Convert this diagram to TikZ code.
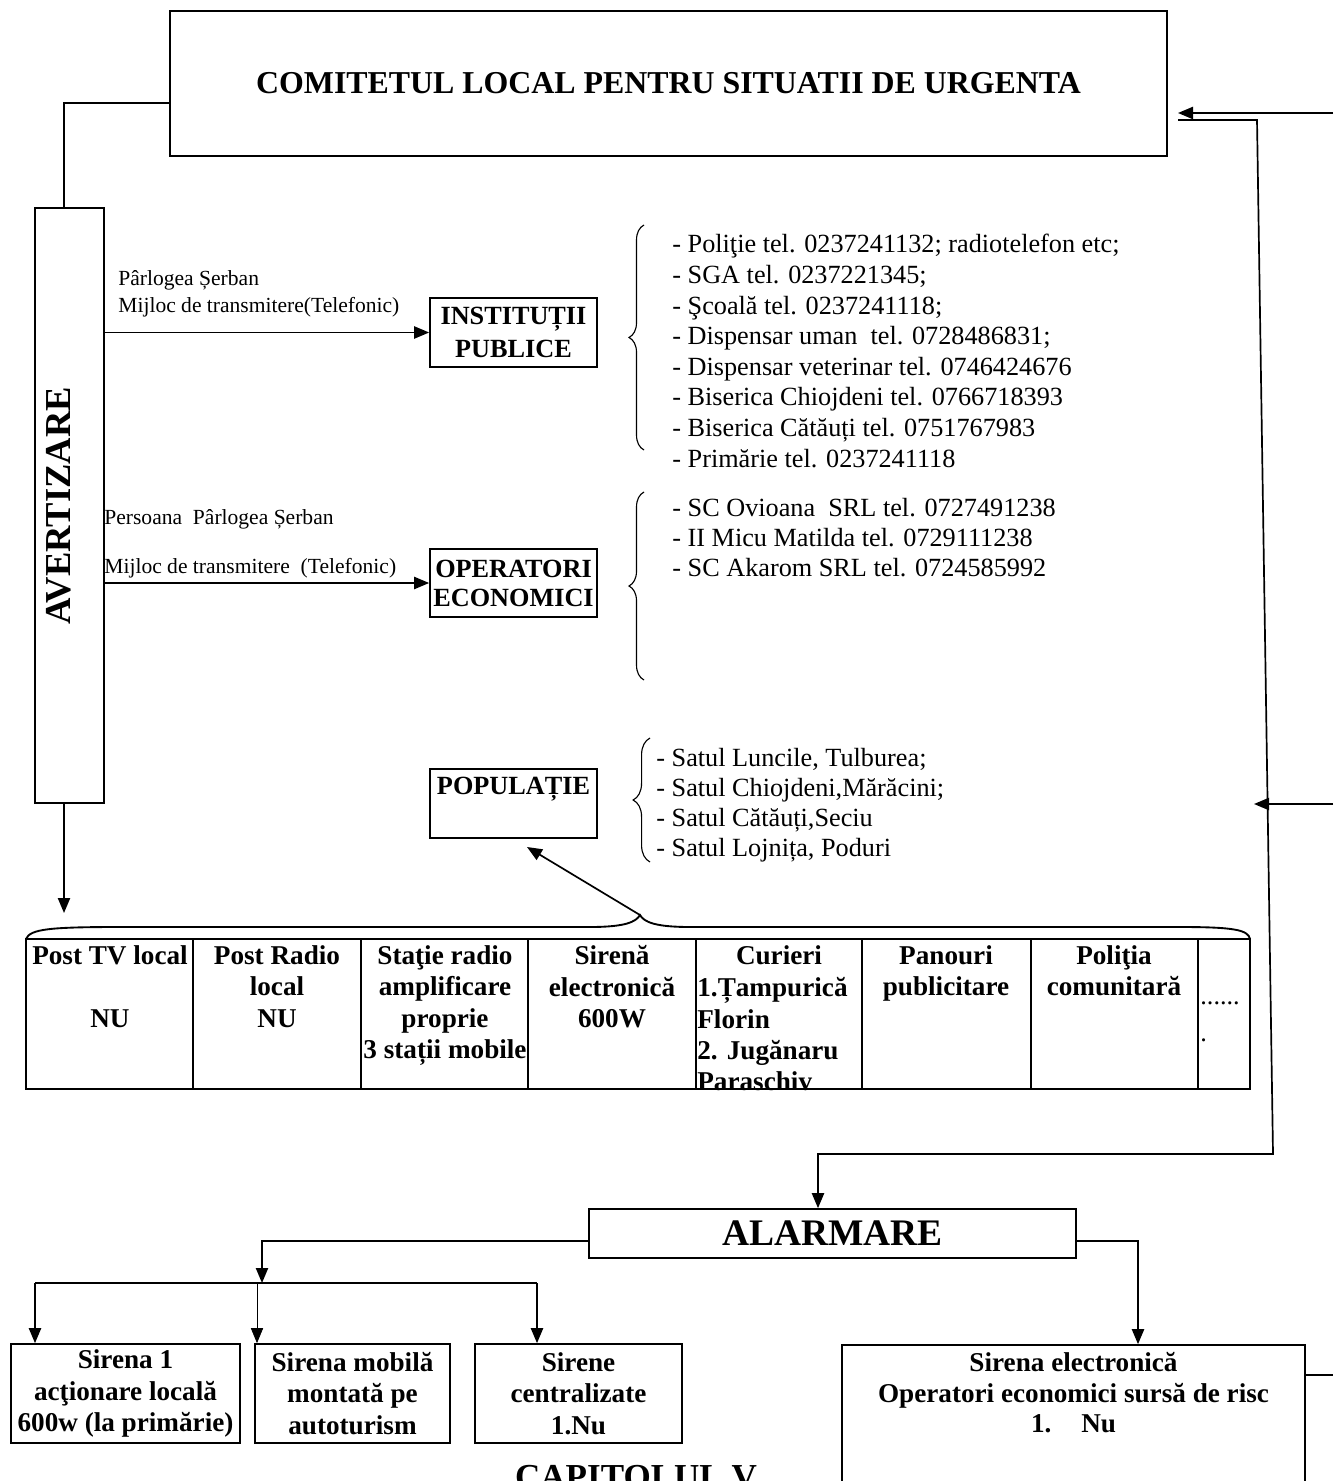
\documentclass[tikz,border=0pt]{standalone}
\usepackage{fontspec}
\setmainfont{Liberation Serif}
\usetikzlibrary{arrows.meta,decorations.pathreplacing}

\def\pxu{0.01875cm}

\begin{document}
\begin{tikzpicture}[x=0.01875cm, y=-0.01875cm,
  box/.style={draw, line width=0.9pt, inner sep=0pt},
  wire/.style={line width=0.9pt},
  arr/.style={-{Triangle[length=8pt,width=6.5pt]}},
  lbl/.style={anchor=west, inner sep=0pt, font=\fontsize{11.5}{13}\selectfont},
  lst/.style={anchor=north west, align=left, inner sep=0pt},
  cellt/.style={anchor=north, align=center, inner sep=0pt, font=\fontsize{14.5}{16.8}\selectfont\bfseries},
  sbox/.style={box, align=center, font=\fontsize{14.5}{16.8}\selectfont\bfseries},
  crl/.style={decorate, decoration={brace, amplitude=8pt}, line width=0.6pt},
  tab/.style={line width=1pt}]
  \useasboundingbox (0,0) rectangle (1333,1481);

  % boxes
  \node[box, minimum width=997*\pxu, minimum height=145*\pxu,
    font=\fontsize{17}{20}\selectfont\bfseries] (clsu) at (668.5,83.5)
    {COMITETUL LOCAL PENTRU SITUATII DE URGENTA};
  \node[box, minimum width=69*\pxu, minimum height=595*\pxu] (avert) at (69.5,505.5) {};
  \node[rotate=90, inner sep=0pt, font=\fontsize{19.5}{22}\selectfont\bfseries] (avtxt) at (59,506) {AVERTIZARE};
  \node[box, minimum width=167*\pxu, minimum height=69*\pxu, align=center,
    font=\fontsize{14}{17.6}\selectfont\bfseries] (inst) at (513.5,332.5) {INSTITUȚII\\PUBLICE};
  \node[box, minimum width=167*\pxu, minimum height=68*\pxu, align=center,
    font=\fontsize{14}{15.5}\selectfont\bfseries] (oper) at (513.5,583) {OPERATORI\\ECONOMICI};
  \node[box, minimum width=167*\pxu, minimum height=69*\pxu] (pop) at (513.5,803.5) {};
  \node[inner sep=0pt, font=\fontsize{14}{16}\selectfont\bfseries] (poptxt) at (513.5,789) {POPULAȚIE};

  % labels on the arrows
  \node[lbl] (l1) at (118,280) {Pârlogea Șerban};
  \node[lbl] (l2) at (118,307) {Mijloc de transmitere(Telefonic)};
  \node[lbl] (l3) at (104,519) {Persoana\ \ Pârlogea Șerban};
  \node[lbl] (l4) at (104,568) {Mijloc de transmitere\ \ (Telefonic)};

  % lists
  \draw[crl] (644,450) -- (644,225);
  \node[lst, font=\fontsize{14}{16.33}\selectfont] (instlist) at (672,234)
    {- Poliţie tel. 0237241132; radiotelefon etc;\\
     - SGA tel. 0237221345;\\
     - Şcoală tel. 0237241118;\\
     - Dispensar uman\ \ tel. 0728486831;\\
     - Dispensar veterinar tel. 0746424676\\
     - Biserica Chiojdeni tel. 0766718393\\
     - Biserica Cătăuți tel. 0751767983\\
     - Primărie tel. 0237241118};
  \draw[crl] (644,680) -- (644,492);
  \node[lst, font=\fontsize{14}{16}\selectfont] (operlist) at (672,498)
    {- SC Ovioana\ \ SRL tel. 0727491238\\
     - II Micu Matilda tel. 0729111238\\
     - SC Akarom SRL tel. 0724585992};
  \draw[crl, decoration={brace, amplitude=9pt}] (650,862) -- (650,738);
  \node[lst, font=\fontsize{14}{16}\selectfont] (poplist) at (656,748)
    {- Satul Luncile, Tulburea;\\
     - Satul Chiojdeni,Mărăcini;\\
     - Satul Cătăuți,Seciu\\
     - Satul Lojnița, Poduri};

  % table of means
  \draw[tab] (26,939) .. controls (30,929) and (50,927) .. (120,927) -- (590,927)
    .. controls (625,927) and (636,922) .. (640,915)
    .. controls (644,922) and (655,927) .. (690,927) -- (1180,927)
    .. controls (1235,927) and (1248,930) .. (1250,939);
  \foreach \xa/\xb in {26/193,193/361,361/528,528/696,696/862,862/1031,1031/1198,1198/1250}
    \draw[tab] (\xa,939) rectangle (\xb,1089);
  \node[cellt] (tv) at (110,945) {Post TV local\\\mbox{}\\NU};
  \node[cellt] (radio) at (277,945) {Post Radio\\local\\NU};
  \node[cellt] (statie) at (445,945) {Staţie radio\\amplificare\\proprie\\3 stații mobile};
  \node[cellt] (sirena) at (612,945) {Sirenă\\electronică\\600W};
  \node[cellt] (cur) at (779,945) {Curieri};
  \node[cellt, anchor=north west, align=left] (curlist) at (697,977)
    {1.Țampurică\\Florin\\2. Jugănaru\\Paraschiv};
  \node[cellt] (panou) at (946,945) {Panouri\\publicitare};
  \node[cellt] (politia) at (1114,945) {Poliţia\\comunitară};
  \node[lbl, font=\fontsize{14}{16}\selectfont] (dots) at (1200,1003) {......};
  \node[lbl, font=\fontsize{14}{16}\selectfont] (dot) at (1200,1040) {.};

  % alarm part
  \node[box, minimum width=487*\pxu, minimum height=49*\pxu,
    font=\fontsize{20}{24}\selectfont\bfseries] (alarm) at (832.5,1233.5) {ALARMARE};
  \node[sbox, minimum width=229*\pxu, minimum height=99*\pxu] (s1) at (125.5,1393.5)
    {Sirena 1\\acţionare locală\\600w (la primărie)};
  \node[sbox, minimum width=195*\pxu, minimum height=99*\pxu] (s2) at (352.5,1393.5)
    {Sirena mobilă\\montată pe\\autoturism};
  \node[sbox, minimum width=207*\pxu, minimum height=99*\pxu] (s3) at (578.5,1393.5)
    {Sirene\\centralizate\\1.Nu};
  \node[box, minimum width=463*\pxu, minimum height=160*\pxu] (s4) at (1073.5,1425) {};
  \node[cellt, font=\fontsize{14.5}{16.3}\selectfont\bfseries] (s4txt) at (1073.5,1352)
    {Sirena electronică\\Operatori economici sursă de risc\\1.\hspace{1.1em}Nu};
  \node[anchor=base, inner sep=0pt, font=\fontsize{18.7}{22}\selectfont\bfseries] (cap) at (636,1488) {CAPITOLUL V};

  % connectors
  \coordinate (lA) at (64,103);
  \coordinate (lB) at (64,913);
  \draw[wire] (clsu.west |- lA) -| (avert.north -| lA);
  \draw[wire, arr] (avert.south -| lB) -- (lB);
  \draw[wire, arr] (avert.east |- inst.west) -- (inst.west);
  \draw[wire, arr] (avert.east |- oper.west) -- (oper.west);
  \coordinate (tip) at (640,915);
  \coordinate (popin) at (527,847);
  \draw[wire, arr] (tip) -- (popin);

  \coordinate (rIn) at (1333,113);
  \coordinate (rTip) at (1178,113);
  \draw[wire, arr] (rIn) -- (rTip);
  \coordinate (rA) at (1178,120);
  \coordinate (rB) at (1257,120);
  \coordinate (rC) at (1273,1154);
  \coordinate (rD) at (818,1154);
  \draw[wire, arr] (rA) -- (rB) -- (rC) -| (alarm.north -| rD);
  \coordinate (rIn2) at (1333,804);
  \coordinate (rTip2) at (1254,804);
  \draw[wire, arr] (rIn2) -- (rTip2);

  \coordinate (aL) at (262,1241);
  \coordinate (aJ) at (262,1283);
  \draw[wire, arr] (alarm.west |- aL) -| (aJ);
  \coordinate (bL) at (35,1283);
  \coordinate (bM) at (257,1283);
  \coordinate (bR) at (537,1283);
  \draw[wire] (bL) -- (bR);
  \draw[wire, arr] (bL) -- (s1.north -| bL);
  \draw[thin, arr] (bM) -- (s2.north -| bM);
  \draw[wire, arr] (bR) -- (s3.north -| bR);
  \coordinate (aR) at (1138,1241);
  \draw[wire, arr] (alarm.east |- aR) -| (s4.north -| aR);
  \coordinate (sOut) at (1333,1375);
  \draw[wire] (s4.east |- sOut) -- (sOut);
\end{tikzpicture}
\end{document}
